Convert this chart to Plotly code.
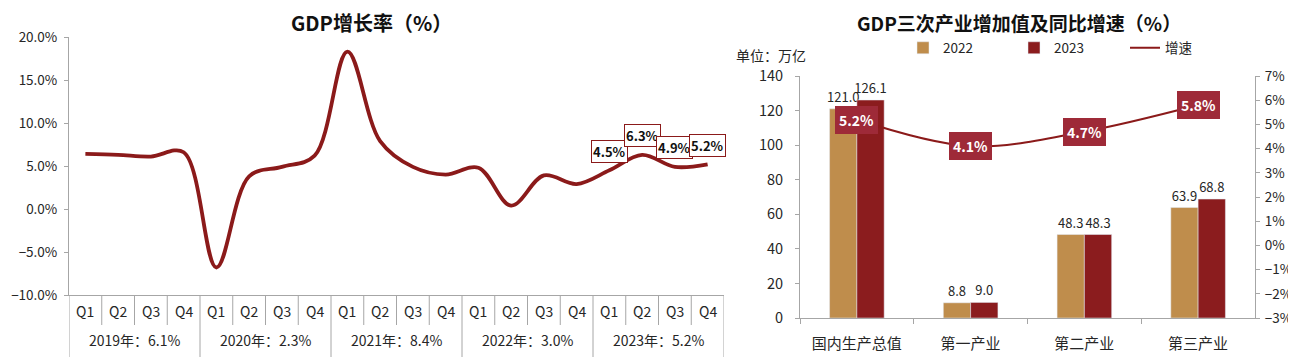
import plotly.graph_objects as go

# ---------------- data ----------------
quarters = ["Q1", "Q2", "Q3", "Q4"] * 5
year_labels = ["2019年：6.1%", "2020年：2.3%", "2021年：8.4%", "2022年：3.0%", "2023年：5.2%"]
gdp_growth = [6.4, 6.3, 6.1, 6.6,
              -6.8, 3.8, 4.9, 6.2,
              18.3, 7.9, 4.9, 4.0,
              4.8, 0.4, 3.9, 2.9,
              4.5, 6.3, 4.9, 5.2]
labelled_idx = [16, 17, 18, 19]

sectors = ["国内生产总值", "第一产业", "第二产业", "第三产业"]
val_2022 = [121.0, 8.8, 48.3, 63.9]
val_2023 = [126.1, 9.0, 48.3, 68.8]
growth_2023 = [5.2, 4.1, 4.7, 5.8]

# ---------------- styles ----------------
W, H = 1296, 362
OFF = 8  # default page body margin
FONT = "Noto Sans CJK SC"
LINE_RED = "#8B1A1A"
TAN = "#BF8D4C"
DARK_RED = "#8B1C1E"
BOX_RED = "#9E2A38"
AXIS_GRAY = "#A6A6A6"
TXT = "#262626"


def px_x(p):
    return (p - OFF) / W


def px_y(p):
    return (H - (p - OFF)) / H


fig = go.Figure()

x_idx = list(range(len(gdp_growth)))
fig.add_trace(go.Scatter(
    x=x_idx, y=gdp_growth, mode="lines",
    line=dict(color=LINE_RED, width=3.8, shape="spline", smoothing=1.0),
    xaxis="x", yaxis="y", showlegend=False, hoverinfo="skip"))

fig.add_trace(go.Bar(
    x=sectors, y=val_2022, name="2022", marker_color=TAN,
    text=[f"{v:.1f}" for v in val_2022], textposition="outside", constraintext="none",
    textfont=dict(size=13, color=TXT, family=FONT), cliponaxis=False,
    xaxis="x2", yaxis="y2"))
fig.add_trace(go.Bar(
    x=sectors, y=val_2023, name="2023", marker_color=DARK_RED,
    text=[f"{v:.1f}" for v in val_2023], textposition="outside", constraintext="none",
    textfont=dict(size=13, color=TXT, family=FONT), cliponaxis=False,
    xaxis="x2", yaxis="y2"))
fig.add_trace(go.Scatter(
    x=sectors, y=growth_2023, name="增速", mode="lines",
    line=dict(color=LINE_RED, width=2, shape="spline"),
    xaxis="x2", yaxis="y3"))

annotations = []
shapes = []

# left chart point labels
for i in labelled_idx:
    annotations.append(dict(
        x=i, y=gdp_growth[i], xref="x", yref="y",
        text=f"<b>{gdp_growth[i]:.1f}%</b>", showarrow=False, yshift=19,
        font=dict(size=13, color="#111", family=FONT),
        bgcolor="white", bordercolor=LINE_RED, borderwidth=1, borderpad=1))

# left chart category labels
for i, q in enumerate(quarters):
    annotations.append(dict(
        x=i, y=px_y(311), xref="x", yref="paper", text=q, showarrow=False,
        font=dict(size=14, color=TXT, family=FONT), yanchor="middle"))
for k, yl in enumerate(year_labels):
    annotations.append(dict(
        x=4 * k + 1.5, y=px_y(340), xref="x", yref="paper", text=yl, showarrow=False,
        font=dict(size=14, color=TXT, family=FONT), yanchor="middle"))
for b in range(len(quarters) + 1):
    xb = b - 0.5
    bottom = px_y(357) if b % 4 == 0 else px_y(325)
    shapes.append(dict(type="line", xref="x", yref="paper", x0=xb, x1=xb,
                       y0=px_y(295), y1=bottom,
                       line=dict(color=AXIS_GRAY, width=1)))

# right chart growth labels
for s, g in zip(sectors, growth_2023):
    annotations.append(dict(
        x=s, y=g, xref="x2", yref="y3", text=f"<b>{g:.1f}%</b>", showarrow=False,
        font=dict(size=14, color="white", family=FONT),
        bgcolor=BOX_RED, bordercolor=BOX_RED, borderwidth=1, borderpad=3))

# titles
annotations.append(dict(x=px_x(371), y=px_y(23), xref="paper", yref="paper",
                        text="<b>GDP增长率（%）</b>", showarrow=False,
                        xanchor="center", yanchor="middle",
                        font=dict(size=20, color="#111", family=FONT)))
annotations.append(dict(x=px_x(1019), y=px_y(22), xref="paper", yref="paper",
                        text="<b>GDP三次产业增加值及同比增速（%）</b>", showarrow=False,
                        xanchor="center", yanchor="middle",
                        font=dict(size=19, color="#111", family=FONT)))
annotations.append(dict(x=px_x(771), y=px_y(55), xref="paper", yref="paper",
                        text="单位：万亿", showarrow=False,
                        xanchor="center", yanchor="middle",
                        font=dict(size=14, color=TXT, family=FONT)))

fig.update_layout(
    width=W, height=H,
    margin=dict(l=0, r=0, t=0, b=0, pad=0, autoexpand=False),
    paper_bgcolor="white", plot_bgcolor="white",
    font=dict(family=FONT, size=12, color=TXT),
    barmode="group", bargap=0.52, bargroupgap=0,
    xaxis=dict(domain=[px_x(69), px_x(724)], range=[-0.5, len(quarters) - 0.5],
               showticklabels=False, showgrid=False, zeroline=False, automargin=False,
               showline=True, linecolor=AXIS_GRAY, linewidth=1, ticks=""),
    yaxis=dict(domain=[px_y(295), px_y(37)], range=[-10, 20], dtick=5, automargin=False,
               tickformat=".1f", ticksuffix="%", showgrid=False, zeroline=False,
               showline=True, linecolor=AXIS_GRAY, linewidth=1,
               ticks="outside", ticklen=4, tickcolor=AXIS_GRAY, ticklabelstandoff=4,
               tickfont=dict(size=13.5, color=TXT)),
    xaxis2=dict(domain=[px_x(800), px_x(1255)], anchor="y2", automargin=False,
                showgrid=False, zeroline=False, showline=True,
                linecolor=AXIS_GRAY, linewidth=1, ticks="outside",
                tickson="boundaries", ticklen=5, tickcolor=AXIS_GRAY,
                ticklabelstandoff=12,
                tickfont=dict(size=15, color=TXT)),
    yaxis2=dict(domain=[px_y(318), px_y(76)], anchor="x2", range=[0, 140], dtick=20,
                automargin=False,
                showgrid=False, zeroline=False, showline=True,
                linecolor=AXIS_GRAY, linewidth=1, ticks="outside", ticklen=4,
                tickcolor=AXIS_GRAY, ticklabelstandoff=9,
                tickfont=dict(size=14.5, color=TXT)),
    yaxis3=dict(overlaying="y2", side="right", anchor="x2", range=[-3, 7], dtick=1,
                automargin=False,
                ticksuffix="%", showgrid=False, zeroline=False, showline=True,
                linecolor=AXIS_GRAY, linewidth=1, ticks="outside", ticklen=4,
                tickcolor=AXIS_GRAY, ticklabelstandoff=2,
                tickfont=dict(size=13.5, color=TXT)),
    legend=dict(orientation="h", x=px_x(903), y=px_y(48), xanchor="left",
                yanchor="middle", font=dict(size=13.5, color=TXT, family=FONT),
                entrywidth=66, entrywidthmode="pixels", bgcolor="rgba(0,0,0,0)"),
    annotations=annotations, shapes=shapes,
)

fig.write_html("out.html")
